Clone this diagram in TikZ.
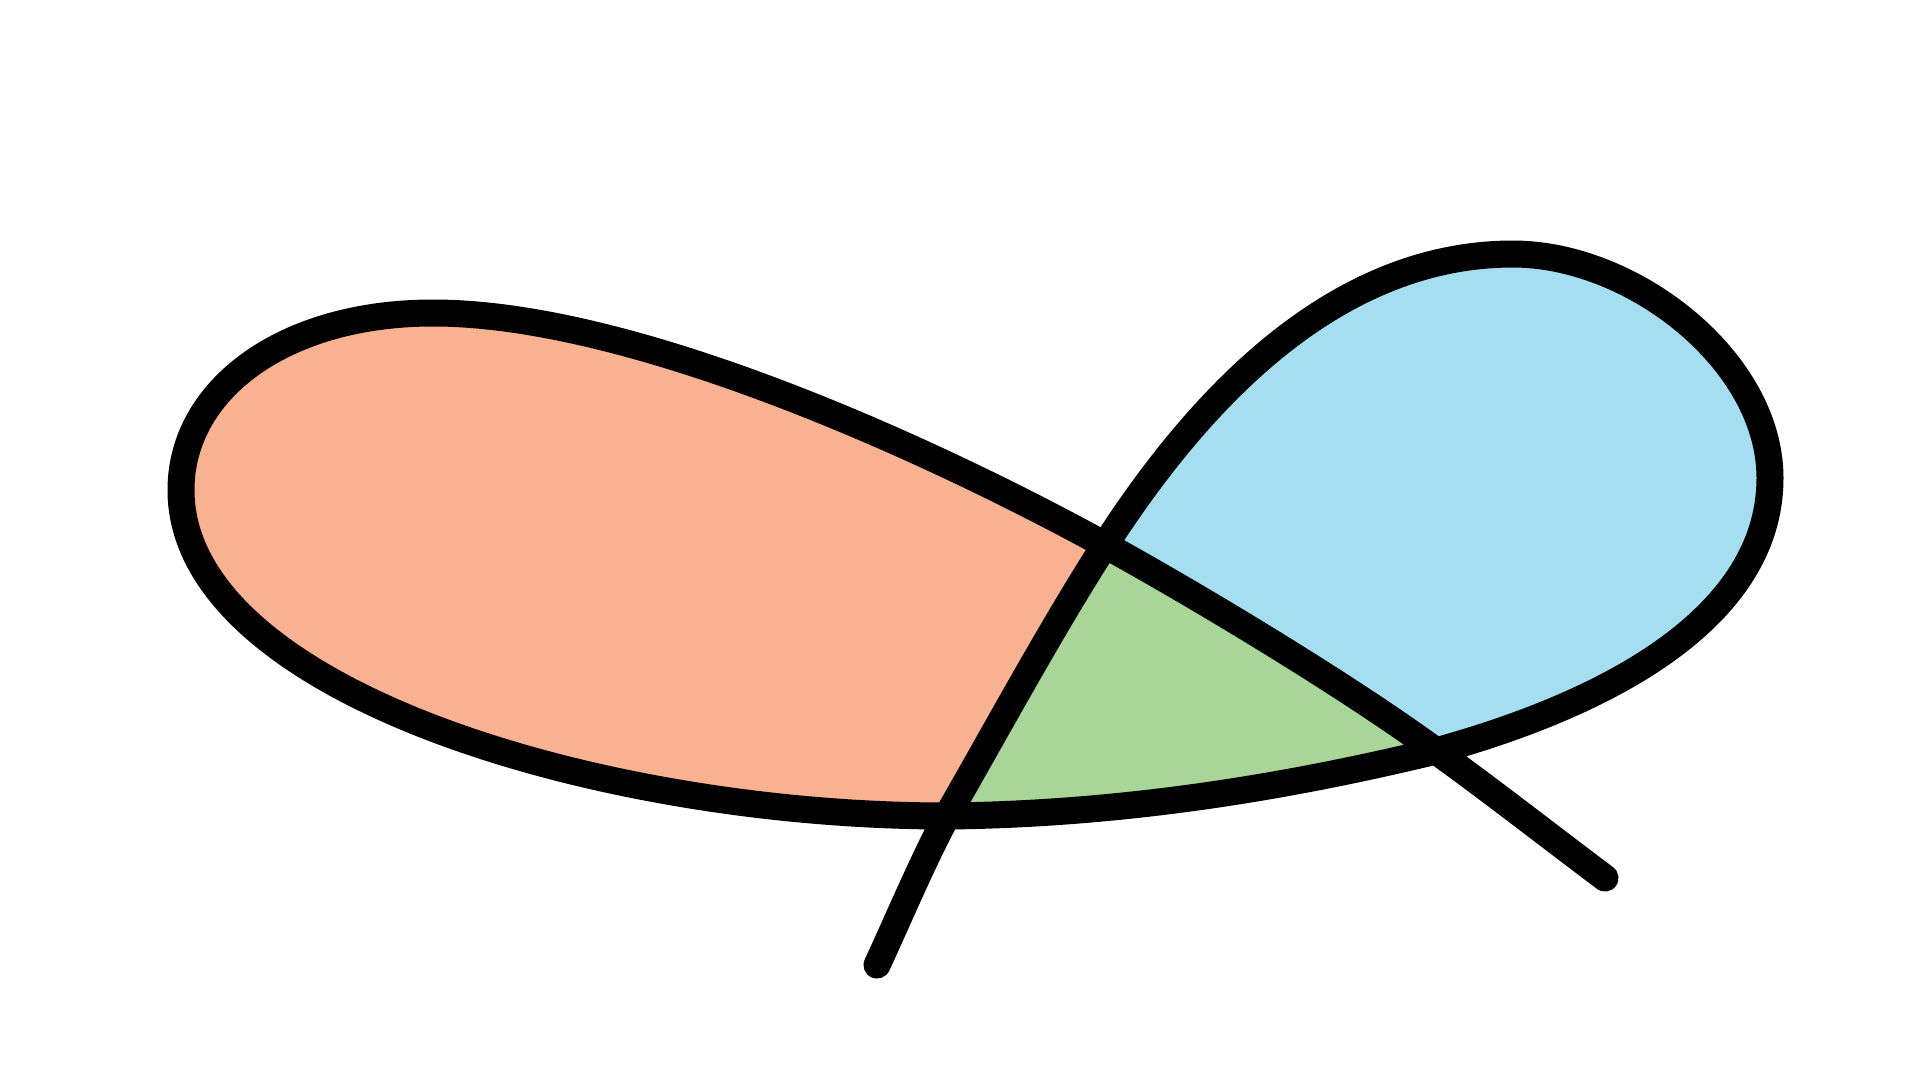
\documentclass[tikz,border=0pt]{standalone}
\definecolor{lobeorange}{RGB}{249,178,145}
\definecolor{lobeblue}{RGB}{165,222,240}
\definecolor{lobegreen}{RGB}{168,213,152}
\tikzset{
  outline/.style={draw=black, line width=27pt, line cap=round, line join=round}
}
\begin{document}
\begin{tikzpicture}[x=1pt,y=-1pt]
\useasboundingbox (0,0) rectangle (1920,1080);
\coordinate (S) at (877,965);
\coordinate (A) at (947,816);
\coordinate (X) at (1105,545);
\coordinate (RT) at (1513,254);
\coordinate (R) at (1770,478);
\coordinate (B) at (1436,751);
\coordinate (L) at (181,490);
\coordinate (T) at (433,313);
\coordinate (E) at (1605,878);
% fills
\fill[lobeorange] (A) .. controls (597,816) and (181,690) .. (L)
  .. controls (181,390) and (283,313) .. (T)
  .. controls (633,313) and (930,449) .. (X)
  .. controls (1051,629) and (997,729) .. (A) -- cycle;
\fill[lobegreen] (X) .. controls (1201,598) and (1347,686) .. (B)
  .. controls (1320,779) and (1147,814) .. (A)
  .. controls (997,729) and (1051,629) .. (X) -- cycle;
\fill[lobeblue] (X) .. controls (1208,385) and (1343,254) .. (RT)
  .. controls (1633,254) and (1770,361) .. (R)
  .. controls (1770,605) and (1635,696) .. (B)
  .. controls (1347,686) and (1201,598) .. (X) -- cycle;
% outline
\draw[outline] (S) .. controls (898,920) and (923,860) .. (A)
  .. controls (997,729) and (1051,629) .. (X)
  .. controls (1208,385) and (1343,254) .. (RT)
  .. controls (1633,254) and (1770,361) .. (R)
  .. controls (1770,605) and (1635,696) .. (B)
  .. controls (1320,779) and (1147,814) .. (A)
  .. controls (597,816) and (181,690) .. (L)
  .. controls (181,390) and (283,313) .. (T)
  .. controls (633,313) and (930,449) .. (X)
  .. controls (1201,598) and (1347,686) .. (B)
  .. controls (1485,786) and (1557,842) .. (E);
\end{tikzpicture}
\end{document}
